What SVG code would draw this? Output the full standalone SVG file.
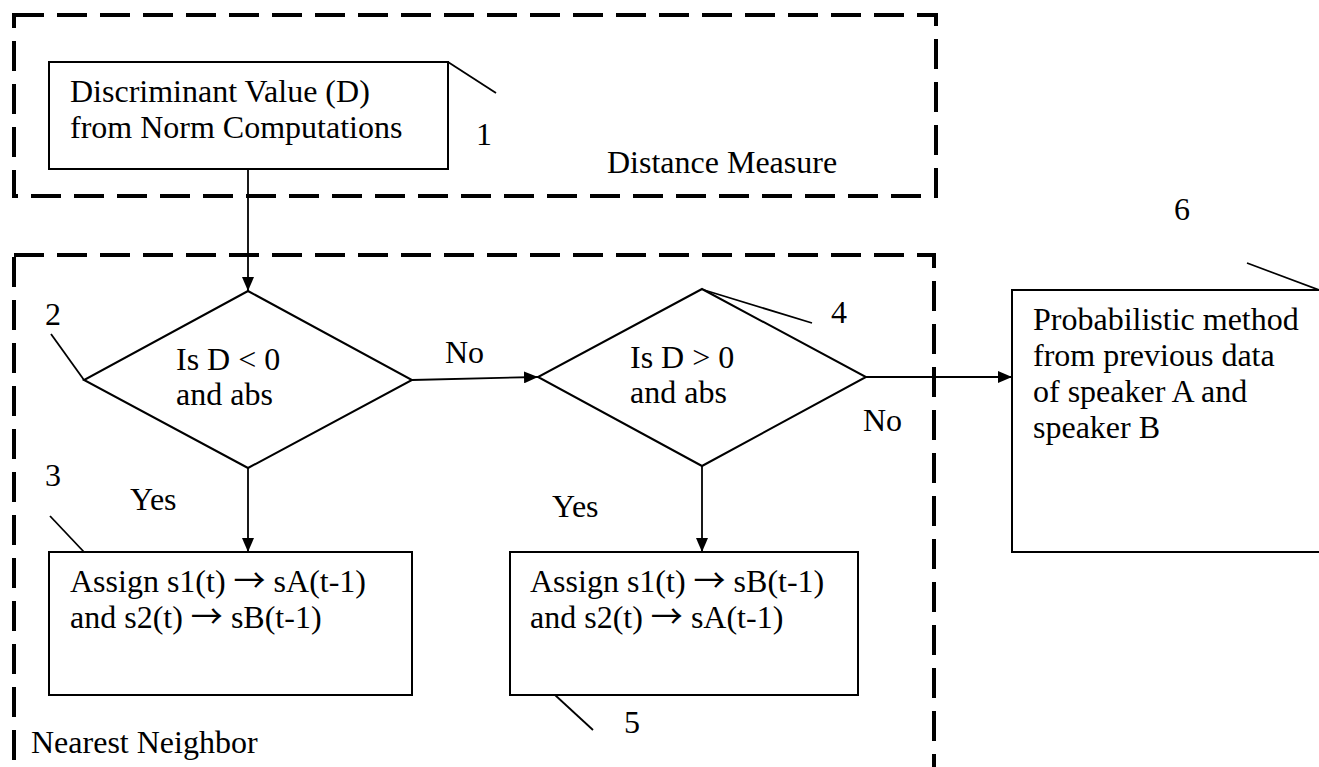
<svg xmlns="http://www.w3.org/2000/svg" width="1319" height="767" viewBox="0 0 1319 767">
<style>
.bg{fill:#fff}
.grp{fill:none;stroke:#000;stroke-width:4;stroke-dasharray:30 13}
.box{fill:#fff;stroke:#000;stroke-width:2}
.ln{fill:none;stroke:#000;stroke-width:1.8}
.t{font-family:"Liberation Serif","Times New Roman",serif;font-size:32px;fill:#000}
.ar{font-family:"Noto Sans CJK SC","DejaVu Sans",sans-serif;font-size:32px}
</style>
<defs>
<marker id="ah" viewBox="0 0 14 12" refX="14" refY="6" markerWidth="14" markerHeight="12" markerUnits="userSpaceOnUse" orient="auto">
<path d="M0,0 L14,6 L0,12 Z" fill="#000"/>
</marker>
</defs>
<rect class="bg" x="0" y="0" width="1319" height="767"/>
<g id="group-distance">
<rect class="grp" x="14" y="15" width="922" height="181"/>
<text class="t" x="607" y="173">Distance Measure</text>
</g>
<g id="group-nearest">
<rect class="grp" x="14" y="255" width="920" height="515"/>
<text class="t" x="31" y="753">Nearest Neighbor</text>
</g>
<g id="connectors">
<line class="ln" x1="248" y1="169" x2="248" y2="291" marker-end="url(#ah)"/>
<line class="ln" x1="412" y1="380" x2="538" y2="377" marker-end="url(#ah)"/>
<line class="ln" x1="248" y1="468" x2="248" y2="552" marker-end="url(#ah)"/>
<line class="ln" x1="702" y1="466" x2="702" y2="552" marker-end="url(#ah)"/>
<line class="ln" x1="866" y1="377" x2="1012" y2="377" marker-end="url(#ah)"/>
<text class="t" x="445" y="363">No</text>
<text class="t" x="863" y="431">No</text>
<text class="t" x="130" y="510">Yes</text>
<text class="t" x="552" y="517">Yes</text>
</g>
<g id="node1">
<rect class="box" x="49" y="62" width="399" height="107"/>
<text class="t" x="70" y="102">Discriminant Value (D)</text>
<text class="t" x="70" y="138">from Norm Computations</text>
<line class="ln" x1="448" y1="62" x2="496" y2="93"/>
<text class="t" x="476" y="145">1</text>
</g>
<g id="node2">
<polygon class="box" points="248,291 412,380 248,468 84,380"/>
<text class="t" x="176" y="370">Is D &lt; 0</text>
<text class="t" x="176" y="405">and abs</text>
<line class="ln" x1="84" y1="380" x2="51" y2="334"/>
<text class="t" x="45" y="325">2</text>
</g>
<g id="node3">
<rect class="box" x="49" y="552" width="363" height="143"/>
<text class="t" x="70" y="592">Assign s1(t) <tspan class="ar">→</tspan> sA(t-1)</text>
<text class="t" x="70" y="628">and s2(t) <tspan class="ar">→</tspan> sB(t-1)</text>
<line class="ln" x1="84" y1="552" x2="50" y2="516"/>
<text class="t" x="45" y="486">3</text>
</g>
<g id="node4">
<polygon class="box" points="702,289 866,377 702,466 538,377"/>
<text class="t" x="630" y="368">Is D &gt; 0</text>
<text class="t" x="630" y="403">and abs</text>
<line class="ln" x1="704" y1="290" x2="812" y2="323"/>
<text class="t" x="831" y="323">4</text>
</g>
<g id="node5">
<rect class="box" x="510" y="552" width="348" height="143"/>
<text class="t" x="530" y="592">Assign s1(t) <tspan class="ar">→</tspan> sB(t-1)</text>
<text class="t" x="530" y="628">and s2(t) <tspan class="ar">→</tspan> sA(t-1)</text>
<line class="ln" x1="555" y1="695" x2="593" y2="730"/>
<text class="t" x="624" y="733">5</text>
</g>
<g id="node6">
<rect class="box" x="1012" y="290" width="320" height="262"/>
<text class="t" x="1033" y="330">Probabilistic method</text>
<text class="t" x="1033" y="366">from previous data</text>
<text class="t" x="1033" y="402">of speaker A and</text>
<text class="t" x="1033" y="438">speaker B</text>
<line class="ln" x1="1247" y1="263" x2="1319" y2="290"/>
<text class="t" x="1174" y="220">6</text>
</g>
</svg>
